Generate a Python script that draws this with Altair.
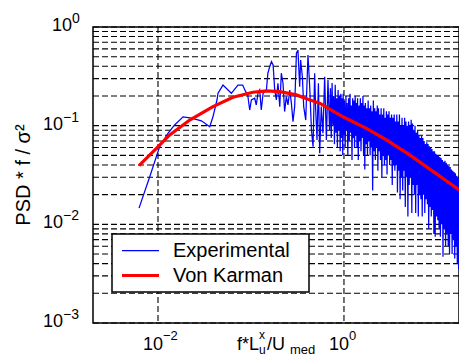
import altair as alt
import pandas as pd

# ---------------- data ----------------
exp_f = [
    0.00625, 0.00815, 0.01043, 0.0128, 0.0151, 0.0186, 0.0229, 0.0293, 0.036, 0.039,
    0.0431, 0.0442, 0.050, 0.0615, 0.0724, 0.0814, 0.0877, 0.0922, 0.0969, 0.101,
    0.1096, 0.114, 0.119, 0.124, 0.129, 0.135, 0.1465, 0.152, 0.159, 0.166,
    0.173, 0.180, 0.1875, 0.195, 0.204, 0.212, 0.221, 0.230, 0.240, 0.250,
    0.261, 0.272, 0.283, 0.295, 0.308, 0.320, 0.334, 0.342, 0.357, 0.369,
    0.388, 0.410, 0.428, 0.447, 0.465, 0.484, 0.495, 0.513, 0.531, 0.548,
    0.570, 0.594, 0.620, 0.647, 0.673,
    0.70, 0.715, 0.73, 0.745, 0.76, 0.775, 0.79, 0.805, 0.82, 0.835,
    0.85, 0.865, 0.88, 0.895, 0.91, 0.925, 0.94, 0.955, 0.97,
    0.98, 0.995, 1.01, 1.03, 1.05, 1.065, 1.08, 1.10, 1.12, 1.14,
    1.16, 1.18, 1.20, 1.22, 1.24, 1.26, 1.28, 1.30, 1.32, 1.34,
    1.36, 1.38, 1.40, 1.425, 1.45, 1.475, 1.50, 1.525, 1.55, 1.575,
    1.60, 1.625, 1.65, 1.675, 1.70, 1.73, 1.76, 1.79, 1.82, 1.85,
    1.88, 1.91, 1.94, 1.97, 2.00, 2.035, 2.07, 2.105, 2.14, 2.175,
    2.21, 2.245, 2.28, 2.315, 2.35, 2.39, 2.43, 2.47, 2.51, 2.555,
    2.60, 2.64, 2.68, 2.725, 2.77, 2.815, 2.86, 2.905, 2.95, 3.0,
    3.05, 3.10, 3.15, 3.20, 3.25, 3.305, 3.36, 3.415, 3.47, 3.525,
    3.58, 3.64, 3.70, 3.76, 3.82, 3.885, 3.95, 4.015, 4.08, 4.145,
    4.21, 4.28, 4.35, 4.42, 4.49, 4.565, 4.64, 4.715, 4.79, 4.87,
    4.95, 5.03, 5.11, 5.195, 5.28, 5.365, 5.45, 5.54, 5.63, 5.72,
    5.81, 5.905, 6.0, 6.1, 6.2, 6.3, 6.4, 6.505, 6.61, 6.72,
    6.83, 6.94, 7.05, 7.165, 7.28, 7.4, 7.52, 7.645, 7.77, 7.895,
    8.02, 8.15, 8.28, 8.415, 8.55, 8.69, 8.83, 8.975, 9.12, 9.27,
    9.42, 9.575, 9.73, 9.89, 10.05, 10.215, 10.38, 10.55, 10.72, 10.895,
    11.07, 11.25, 11.43, 11.615, 11.8, 11.995, 12.19, 12.39, 12.59, 12.795,
    13.0, 13.215, 13.43, 13.65, 13.87, 14.095, 14.32, 14.555, 14.79, 15.03,
    15.27, 15.52, 15.77, 16.03, 16.29, 16.555, 16.82, 17.095, 17.37,
]
exp_psd = [
    0.0146, 0.0304, 0.0613, 0.0838, 0.1017, 0.123, 0.119, 0.112, 0.0977, 0.123,
    0.182, 0.213, 0.258, 0.213, 0.258, 0.258, 0.221, 0.205, 0.144, 0.182,
    0.19, 0.162, 0.213, 0.23, 0.144, 0.213, 0.23, 0.34, 0.396, 0.445,
    0.412, 0.23, 0.182, 0.269, 0.156, 0.34, 0.269, 0.139, 0.197, 0.162,
    0.23, 0.169, 0.11, 0.156, 0.542, 0.585, 0.248, 0.463, 0.313, 0.156,
    0.114, 0.52, 0.248, 0.0904, 0.0613, 0.34, 0.156, 0.0716, 0.269, 0.0525,
    0.156, 0.0838, 0.313, 0.0716, 0.29,
    0.09, 0.24, 0.075, 0.27, 0.1, 0.2, 0.065, 0.26, 0.085, 0.19,
    0.06, 0.23, 0.09, 0.2, 0.055, 0.21, 0.075, 0.19, 0.05,
    0.21, 0.08, 0.18, 0.06, 0.2, 0.09, 0.17, 0.05, 0.19, 0.07,
    0.21, 0.085, 0.16, 0.045, 0.19, 0.075, 0.18, 0.06, 0.2, 0.08,
    0.17, 0.06, 0.19, 0.045, 0.16, 0.07, 0.19, 0.055, 0.17, 0.075,
    0.2, 0.05, 0.16, 0.036, 0.17, 0.065, 0.15, 0.05, 0.18, 0.07,
    0.15, 0.05, 0.16, 0.06, 0.14, 0.022, 0.18, 0.055, 0.15, 0.045,
    0.14, 0.06, 0.16, 0.035, 0.15, 0.055, 0.13, 0.045, 0.15, 0.03,
    0.13, 0.05, 0.15, 0.04, 0.12, 0.045, 0.14, 0.032, 0.13, 0.05,
    0.14, 0.04, 0.12, 0.045, 0.13, 0.025, 0.12, 0.04, 0.13, 0.035,
    0.11, 0.04, 0.13, 0.021, 0.11, 0.035, 0.13, 0.018, 0.1, 0.03,
    0.12, 0.022, 0.1, 0.035, 0.12, 0.015, 0.11, 0.03, 0.1, 0.012,
    0.11, 0.025, 0.1, 0.03, 0.115, 0.013, 0.105, 0.025, 0.09, 0.02,
    0.1, 0.013, 0.085, 0.025, 0.09, 0.012, 0.08, 0.02, 0.075, 0.018,
    0.08, 0.012, 0.075, 0.02, 0.07, 0.013, 0.065, 0.018, 0.068, 0.016,
    0.065, 0.009, 0.062, 0.015, 0.06, 0.012, 0.058, 0.014, 0.055, 0.008,
    0.055, 0.0075, 0.052, 0.012, 0.05, 0.011, 0.05, 0.009, 0.048, 0.0075,
    0.047, 0.01, 0.045, 0.0047, 0.043, 0.009, 0.044, 0.006, 0.042, 0.008,
    0.04, 0.006, 0.039, 0.005, 0.038, 0.008, 0.036, 0.005, 0.035, 0.007,
    0.034, 0.0045, 0.033, 0.006, 0.031, 0.004, 0.03, 0.0035, 0.029,
]
vk_f = [0.00625, 0.00961, 0.01337, 0.02193, 0.039, 0.064, 0.105, 0.1465, 0.204,
        0.308, 0.41, 0.548, 0.975, 1.74, 2.86, 5.08, 9.06, 16.8, 17.4]
vk_psd = [0.0393, 0.059, 0.0805, 0.114, 0.156, 0.194, 0.218, 0.225, 0.221,
          0.205, 0.185, 0.169, 0.123, 0.094, 0.0716, 0.0505, 0.0344, 0.0228, 0.0222]

series_names = ["Experimental", "Von Karman"]
x_ticks = [0.01, 1]
x_tick_exp = ["\u22122", "0"]
y_ticks = [1, 0.1, 0.01, 0.001]
y_tick_exp = ["0", "\u22121", "\u22122", "\u22123"]
y_grid = [0.001, 0.002, 0.003, 0.004, 0.005, 0.006, 0.007, 0.008, 0.009,
          0.01, 0.02, 0.03, 0.04, 0.05, 0.06, 0.07, 0.08, 0.09,
          0.1, 0.2, 0.3, 0.4, 0.5, 0.6, 0.7, 0.8, 0.9, 1.0]

FONT = "Liberation Sans"
xs = alt.Scale(type="log", domain=[0.002, 17.26], nice=False)
ys = alt.Scale(type="log", domain=[0.001, 1], nice=False)

exp_df = pd.DataFrame({"f": exp_f, "psd": exp_psd, "i": range(len(exp_f))})
vk_df = pd.DataFrame({"f": vk_f, "psd": vk_psd, "i": range(len(vk_f))})
one = pd.DataFrame({"a": [0]})

hgrid = alt.Chart(pd.DataFrame({"v": y_grid})).mark_rule(
    color="black", strokeDash=[6, 3], strokeWidth=1.1
).encode(y=alt.Y("v:Q", scale=ys, axis=None))

vgrid = alt.Chart(pd.DataFrame({"v": x_ticks})).mark_rule(
    color="black", strokeDash=[6, 3], strokeWidth=1.1
).encode(x=alt.X("v:Q", scale=xs, axis=None))

blue = alt.Chart(exp_df).mark_line(color="#0000FF", strokeWidth=1.25, clip=True).encode(
    x=alt.X("f:Q", scale=xs, axis=None),
    y=alt.Y("psd:Q", scale=ys, axis=None),
    order="i:Q",
)
red = alt.Chart(vk_df).mark_line(color="#FF0000", strokeWidth=3.2, clip=True).encode(
    x=alt.X("f:Q", scale=xs, axis=None),
    y=alt.Y("psd:Q", scale=ys, axis=None),
    order="i:Q",
)

# y tick labels: "10" plus exponent, the whole label right-aligned near the axis
ylab_df = pd.DataFrame({"v": y_ticks, "e": y_tick_exp})


def ylabel_layers(filt, x10):
    base = alt.Chart(ylab_df).transform_filter(filt)
    ten = base.mark_text(
        text="10", font=FONT, fontSize=18, align="right", baseline="middle", dy=-1, color="black"
    ).encode(y=alt.Y("v:Q", scale=ys, axis=None), x=alt.value(x10))
    ex = base.mark_text(
        font=FONT, fontSize=14, align="left", baseline="middle", dy=-8, color="black"
    ).encode(y=alt.Y("v:Q", scale=ys, axis=None), x=alt.value(x10), text="e:N")
    return [ten, ex]


ylab_layers = ylabel_layers("datum.v == 1", -21) + ylabel_layers("datum.v < 1", -30)

# x tick labels
xlab_df = pd.DataFrame({"v": x_ticks, "e": x_tick_exp})
xlab10 = alt.Chart(xlab_df).mark_text(
    text="10", font=FONT, fontSize=18, align="right", baseline="alphabetic", dx=5, color="black"
).encode(x=alt.X("v:Q", scale=xs, axis=None), y=alt.value(323))
xlabe = alt.Chart(xlab_df).mark_text(
    font=FONT, fontSize=13, align="left", baseline="alphabetic", dx=5, color="black"
).encode(x=alt.X("v:Q", scale=xs, axis=None), y=alt.value(313), text="e:N")


def txt(s, x, y, size, align="left", baseline="alphabetic", angle=0):
    kw = dict(text=s, font=FONT, fontSize=size, align=align, baseline=baseline, color="black")
    if angle:
        kw["angle"] = angle
    return alt.Chart(one).mark_text(**kw).encode(x=alt.value(x), y=alt.value(y))


ytitle = txt("PSD * f / \u03c3\u00b2", -69, 148, 20, align="center", baseline="middle", angle=270)
xt1 = txt("f*L", 144, 323, 18)
xt2 = txt("u", 166, 327, 12)
xt3 = txt("x", 166, 312, 12)
xt4 = txt("/U", 174, 323, 18)
xt5 = txt("med", 197, 327, 13)

# legend
leg_box = alt.Chart(one).mark_rect(fill="white", stroke="black", strokeWidth=1.5).encode(
    x=alt.value(19), x2=alt.value(216), y=alt.value(207), y2=alt.value(265)
)
leg_blue = alt.Chart(one).mark_rule(color="#0000FF", strokeWidth=1.2).encode(
    x=alt.value(29), x2=alt.value(66), y=alt.value(223.7)
)
leg_red = alt.Chart(one).mark_rule(color="#FF0000", strokeWidth=3).encode(
    x=alt.value(29), x2=alt.value(66), y=alt.value(248.5)
)
leg_t1 = txt(series_names[0], 80, 224, 20, baseline="middle")
leg_t2 = txt(series_names[1], 80, 249, 20, baseline="middle")

chart = alt.layer(
    hgrid, vgrid, blue, red,
    *ylab_layers, xlab10, xlabe,
    ytitle, xt1, xt2, xt3, xt4, xt5,
    leg_box, leg_blue, leg_red, leg_t1, leg_t2,
).properties(
    width=366, height=296,
    autosize=alt.AutoSizeParams(type="none"),
    padding={"left": 93, "top": 27, "right": 0, "bottom": 34},
    background="white",
).configure_view(stroke="black", strokeWidth=1.5)

chart.save("out.html", embed_options={"renderer": "svg", "actions": False})
